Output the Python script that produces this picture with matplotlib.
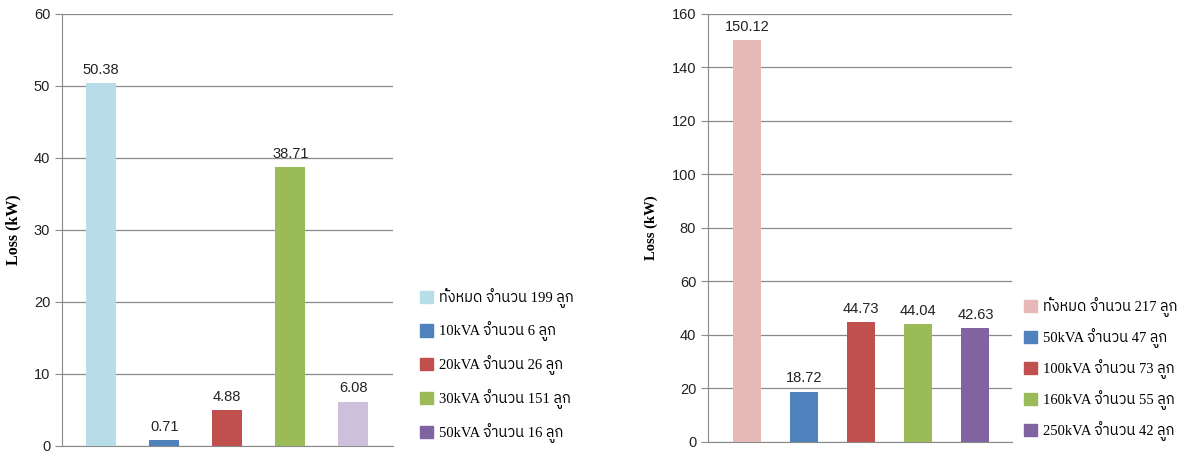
import matplotlib
matplotlib.use("Agg")
import matplotlib.pyplot as plt
from matplotlib import font_manager
from matplotlib.patches import Patch

# left chart
left_values = [50.38, 0.71, 4.88, 38.71, 6.08]
left_labels = [
    "ทั้งหมด จำนวน 199 ลูก",
    "10kVA จำนวน 6 ลูก",
    "20kVA จำนวน 26 ลูก",
    "30kVA จำนวน 151 ลูก",
    "50kVA จำนวน 16 ลูก",
]
left_bar_colors = ["#B7DDE8", "#4F81BD", "#C0504D", "#9BBB59", "#CCC0DA"]
left_legend_colors = ["#B7DDE8", "#4F81BD", "#C0504D", "#9BBB59", "#8064A2"]

# right chart
right_values = [150.12, 18.72, 44.73, 44.04, 42.63]
right_labels = [
    "ทั้งหมด จำนวน 217 ลูก",
    "50kVA จำนวน 47 ลูก",
    "100kVA จำนวน 73 ลูก",
    "160kVA จำนวน 55 ลูก",
    "250kVA จำนวน 42 ลูก",
]
right_colors = ["#E6B9B8", "#4F81BD", "#C0504D", "#9BBB59", "#8064A2"]

# look for something that can draw thai
names = {f.name for f in font_manager.fontManager.ttflist}
thai = [n for n in names if "Thai" in n or n in ("Loma", "Garuda", "Norasi", "Kinnari", "Waree", "Sawasdee", "Umpush", "Purisa")]
serif_fam = ["Liberation Serif"] + sorted(thai) + ["DejaVu Sans"]

plt.rcParams["font.family"] = ["Liberation Sans", "DejaVu Sans"]

fig = plt.figure(figsize=(11.92, 4.51), dpi=100)
ax1 = fig.add_axes([0.052, 0.012, 0.2777, 0.957])
ax2 = fig.add_axes([0.594, 0.020, 0.255, 0.949])


def draw(ax, values, bar_colors, legend_colors, labels, ymax, step, xlim, width,
         lab_size, pad, leg_x, leg_y, spacing):
    x = range(len(values))
    ax.bar(x, values, width=width, color=bar_colors, zorder=3)
    for i, v in enumerate(values):
        ax.text(i, v + ymax * 0.015, f"{v:.2f}", ha="center", va="bottom", fontsize=10.5, color="#222222")
    ax.set_ylim(0, ymax)
    ax.set_xlim(*xlim)
    ax.set_yticks(range(0, ymax + 1, step))
    ax.set_xticks([])
    ax.grid(axis="y", color="#8a8a8a", linewidth=0.9, zorder=0)
    for s in ["top", "right"]:
        ax.spines[s].set_visible(False)
    ax.spines["left"].set_color("#8a8a8a")
    ax.spines["bottom"].set_color("#8a8a8a")
    ax.tick_params(axis="y", colors="#8a8a8a", labelcolor="#222222", labelsize=10.5, length=5)
    ax.set_ylabel("Loss (kW)", family=serif_fam, fontweight="bold", fontsize=lab_size, labelpad=pad)
    handles = [Patch(color=c) for c in legend_colors]
    fig.legend(handles, labels, loc="center left", bbox_to_anchor=(leg_x, leg_y), frameon=False,
               prop={"family": serif_fam, "size": 10.5}, handlelength=0.9, handleheight=0.9,
               handletextpad=0.4, labelspacing=spacing, borderpad=0)


draw(ax1, left_values, left_bar_colors, left_legend_colors, left_labels, 60, 10,
     (-0.62, 4.63), 0.47, 11.5, 9, 0.346, 0.19, 0.95)
draw(ax2, right_values, right_colors, right_colors, right_labels, 160, 20,
     (-0.68, 4.64), 0.49, 10.5, 10, 0.853, 0.182, 0.75)

fig.savefig("out.png", dpi=100)
